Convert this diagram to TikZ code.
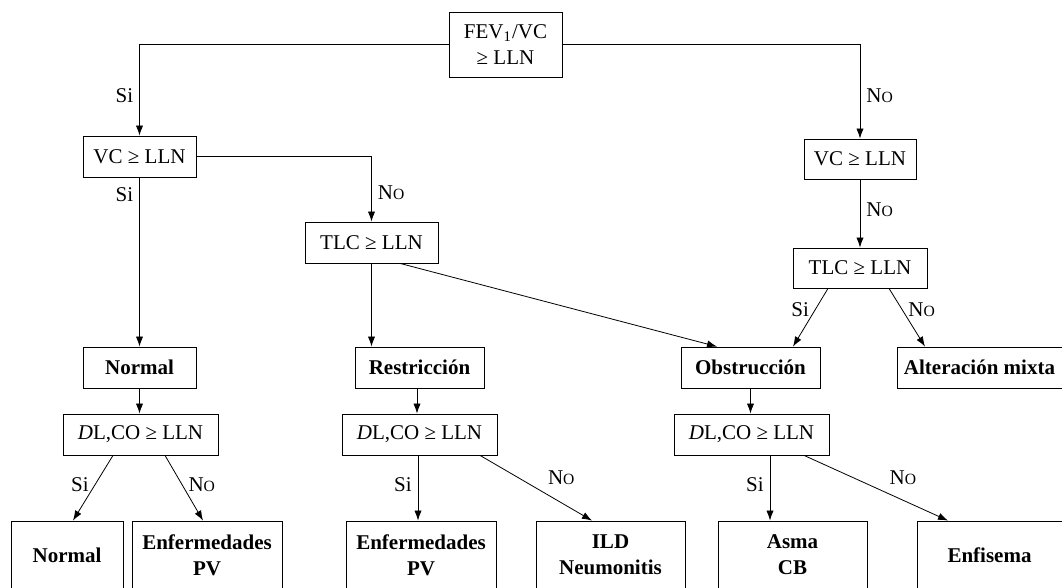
\documentclass[tikz,border=0pt]{standalone}
\usepackage{fontspec}
\setmainfont{Liberation Serif}
\usetikzlibrary{arrows.meta}

\tikzset{
  caja/.style={draw, inner sep=0pt, minimum height=20.5pt, align=center, font=\fontsize{10.5}{13}\selectfont},
  fin/.style={caja, font=\fontsize{10.5}{13}\selectfont\bfseries},
  hoja/.style={fin, minimum height=34pt},
  flecha/.style={-{Latex[length=5pt,width=3.6pt]}},
  etq/.style={font=\fontsize{10.5}{13}\selectfont, inner sep=3pt}
}
\newcommand{\respNo}{N{\fontsize{7.8}{8}\selectfont O}}

\begin{document}
\begin{tikzpicture}[x=0.5pt, y=-0.5pt]
    \useasboundingbox (0,0) rectangle (1062,588);
    % Draw the decision boxes.
    \node[caja, minimum width=56.5pt, minimum height=32.5pt] (fev) at (505.5,44.5) {FEV\textsubscript{1}/VC\\≥ LLN};
    \node[caja, minimum width=56.5pt] (vcL) at (139.5,156.5) {VC ≥ LLN};
    \node[caja, minimum width=66.5pt] (tlcM) at (371.5,242.5) {TLC ≥ LLN};
    \node[caja, minimum width=56pt, minimum height=20pt] (vcR) at (860,159) {VC ≥ LLN};
    \node[caja, minimum width=67pt, minimum height=20pt] (tlcR) at (860,268) {TLC ≥ LLN};
    % Draw the patterns.
    \node[fin, minimum width=56.5pt] (nrmM) at (139.5,367.5) {Normal};
    \node[fin, minimum width=64.5pt] (resM) at (419.5,367.5) {Restricción};
    \node[fin, minimum width=69.5pt] (obsM) at (750.5,367.5) {Obstrucción};
    \node[fin, minimum width=82.5pt] (altM) at (979.5,367.5) {Alteración mixta};
    % Draw the diffusion boxes.
    \node[caja, minimum width=77.5pt] (dlcL) at (140.5,434.5) {\textit{D}L,CO ≥ LLN};
    \node[caja, minimum width=77.5pt] (dlcM) at (419.5,434.5) {\textit{D}L,CO ≥ LLN};
    \node[caja, minimum width=77.5pt] (dlcR) at (751.5,434.5) {\textit{D}L,CO ≥ LLN};
    % Draw the final diagnoses.
    \node[hoja, minimum width=56pt] (nrmB) at (67,555) {Normal};
    \node[hoja, minimum width=75pt] (enfL) at (207,555) {Enfermedades\\PV};
    \node[hoja, minimum width=75pt] (enfM) at (421,555) {Enfermedades\\PV};
    \node[hoja, minimum width=74.5pt] (ildB) at (610.5,555) {ILD\\Neumonitis};
    \node[hoja, minimum width=74.5pt] (asmB) at (792.5,555) {Asma\\CB};
    \node[hoja, minimum width=72.5pt] (efsB) at (989.5,555) {Enfisema};
    % Draw the branches of the first decisions.
    \draw[flecha] (fev.west) -| node[etq, left, pos=0.78] {Si} (vcL.north);
    \draw[flecha] (fev.east) -| node[etq, right, pos=0.77] {\respNo} (vcR.north);
    \draw[flecha] (vcL.east) -| node[etq, right, pos=0.78] {\respNo} (tlcM.north);
    \draw[flecha] (vcL.south) -- node[etq, left, pos=0.1] {Si} (nrmM.north);
    \draw[flecha] (tlcM.south) -- (tlcM.south |- resM.north);
    \draw[flecha] ([xshift=14.25pt]tlcM.south) -- ([xshift=-16.75pt]obsM.north);
    \draw[flecha] (vcR.south) -- node[etq, right, pos=0.45] {\respNo} (tlcR.north);
    \draw[flecha] ([xshift=-16pt]tlcR.south) -- node[etq, left, pos=0.36] {Si} ([xshift=21.25pt]obsM.north);
    \draw[flecha] ([xshift=14.5pt]tlcR.south) -- node[etq, right, pos=0.36] {\respNo} ([xshift=-27.25pt]altM.north);
    % Draw the links to the diffusion boxes.
    \draw[flecha] (nrmM.south) -- (nrmM.south |- dlcL.north);
    \draw[flecha] ([xshift=-1.25pt]resM.south) -- ([xshift=-1.25pt]dlcM.north);
    \draw[flecha] (obsM.south) -- (obsM.south |- dlcR.north);
    % Draw the last branches.
    \draw[flecha] ([xshift=-13.75pt]dlcL.south) -- node[etq, left, pos=0.45] {Si} ([xshift=3pt]nrmB.north);
    \draw[flecha] ([xshift=12.25pt]dlcL.south) -- node[etq, right, pos=0.45] {\respNo} ([xshift=-2pt]enfL.north);
    \draw[flecha] ([xshift=-0.75pt]dlcM.south) -- node[etq, left, pos=0.45] {Si} ([xshift=-1.5pt]enfM.north);
    \draw[flecha] ([xshift=30.25pt]dlcM.south) -- node[etq, above right, pos=0.55] {\respNo} ([xshift=-9.25pt]ildB.north);
    \draw[flecha] ([xshift=9.25pt]dlcR.south) -- node[etq, left, pos=0.45] {Si} ([xshift=-11.25pt]asmB.north);
    \draw[flecha] ([xshift=26.25pt]dlcR.south) -- node[etq, above right, pos=0.55] {\respNo} ([xshift=-20.75pt]efsB.north);
\end{tikzpicture}
\end{document}
